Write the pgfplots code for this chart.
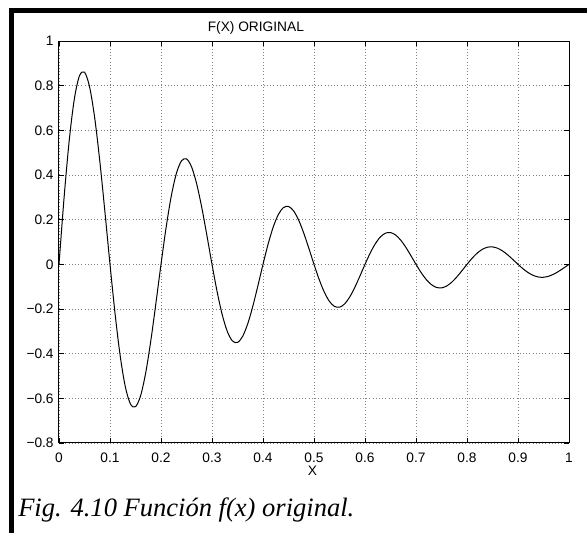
\documentclass[border=0pt]{standalone}
\usepackage{pgfplots}
\pgfplotsset{compat=1.18}
\usepackage{fontspec}
\setmainfont{Liberation Sans}
\newfontfamily\capfont{Liberation Serif}
\begin{document}
\begin{tikzpicture}
\useasboundingbox (0,0) rectangle (440.25pt,399.75pt);
\fill[black] (6.75pt,390.2pt) rectangle (440.25pt,393.75pt);
\fill[black] (6.75pt,0pt) rectangle (10.5pt,393.75pt);
\begin{axis}[
  at={(44.25pt,67.5pt)}, anchor=south west,
  scale only axis, width=382.5pt, height=301.5pt,
  xmin=0, xmax=1, ymin=-0.8, ymax=1,
  xtick={0,0.1,0.2,0.3,0.4,0.5,0.6,0.7,0.8,0.9,1},
  xticklabels={0,0.1,0.2,0.3,0.4,0.5,0.6,0.7,0.8,0.9,1},
  ytick={-0.8,-0.6,-0.4,-0.2,0,0.2,0.4,0.6,0.8,1},
  yticklabels={−0.8,−0.6,−0.4,−0.2,0,0.2,0.4,0.6,0.8,1},
  tick align=inside, major tick length=3.75pt,
  tick style={black, line width=0.6pt},
  axis line style={line width=0.75pt},
  grid=major,
  major grid style={dotted, black!50, line width=0.6pt},
  tick label style={font=\fontsize{10.3}{12}\selectfont},
  xticklabel style={yshift=-4pt},
  yticklabel style={xshift=-0.5pt},
  title={F(X) ORIGINAL},
  title style={at={(axis description cs:0.386,1)}, anchor=base, yshift=1.5pt, font=\fontsize{10.3}{12}\selectfont},
  xlabel={X},
  xlabel style={at={(axis description cs:0.497,0)}, anchor=base, yshift=-24.75pt, font=\fontsize{10.3}{12}\selectfont},
]
\addplot[black, line width=0.75pt, smooth] coordinates {
(0.00,0) (0.01,0.29989) (0.02,0.55356) (0.03,0.73938) (0.04,0.84351) (0.05,0.86071) (0.06,0.79439) (0.07,0.65578) (0.08,0.46237) (0.09,0.23590)
(0.10,0) (0.11,-0.22217) (0.12,-0.41008) (0.13,-0.54775) (0.14,-0.62489) (0.15,-0.63763) (0.16,-0.58850) (0.17,-0.48581) (0.18,-0.34253) (0.19,-0.17476)
(0.20,0) (0.21,0.16458) (0.22,0.30380) (0.23,0.40578) (0.24,0.46293) (0.25,0.47237) (0.26,0.43597) (0.27,0.35990) (0.28,0.25375) (0.29,0.12946)
(0.30,0) (0.31,-0.12192) (0.32,-0.22506) (0.33,-0.30061) (0.34,-0.34295) (0.35,-0.34994) (0.36,-0.32297) (0.37,-0.26662) (0.38,-0.18798) (0.39,-0.09591)
(0.40,0) (0.41,0.09032) (0.42,0.16673) (0.43,0.22270) (0.44,0.25406) (0.45,0.25924) (0.46,0.23927) (0.47,0.19752) (0.48,0.13926) (0.49,0.07105)
(0.50,0) (0.51,-0.06691) (0.52,-0.12352) (0.53,-0.16498) (0.54,-0.18821) (0.55,-0.19205) (0.56,-0.17725) (0.57,-0.14632) (0.58,-0.10317) (0.59,-0.05264)
(0.60,0) (0.61,0.04957) (0.62,0.09150) (0.63,0.12222) (0.64,0.13943) (0.65,0.14227) (0.66,0.13131) (0.67,0.10840) (0.68,0.07643) (0.69,0.03899)
(0.70,0) (0.71,-0.03672) (0.72,-0.06779) (0.73,-0.09054) (0.74,-0.10329) (0.75,-0.10540) (0.76,-0.09728) (0.77,-0.08030) (0.78,-0.05662) (0.79,-0.02889)
(0.80,0) (0.81,0.02720) (0.82,0.05022) (0.83,0.06708) (0.84,0.07652) (0.85,0.07808) (0.86,0.07207) (0.87,0.05949) (0.88,0.04194) (0.89,0.02140)
(0.90,0) (0.91,-0.02015) (0.92,-0.03720) (0.93,-0.04969) (0.94,-0.05669) (0.95,-0.05784) (0.96,-0.05339) (0.97,-0.04407) (0.98,-0.03107) (0.99,-0.01585)
(1.00,0)
};
\end{axis}
\node[anchor=base west, inner sep=0pt, font=\capfont\itshape\fontsize{19.9}{23}\selectfont] at (13.5pt,12pt) {Fig. 4.10 Función f(x) original.};
\end{tikzpicture}
\end{document}
